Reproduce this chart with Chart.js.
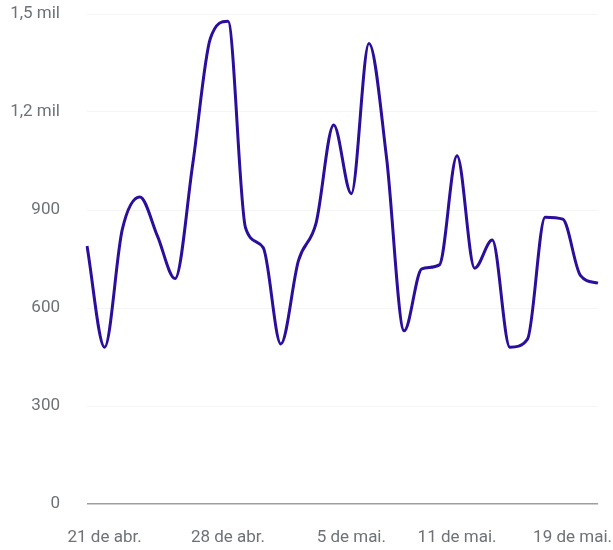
<!DOCTYPE html>
<html lang="pt">
<head>
    <meta charset="UTF-8">
    <title>Visitas diárias</title>
    <script src="https://cdn.jsdelivr.net/npm/chart.js"></script>
    <style>
        html, body { margin: 0; padding: 0; background: #fff; }
        #wrap { width: 613px; height: 550px; }
    </style>
</head>
<body>
    <div id="wrap"><canvas id="myChart"></canvas></div>

    <script>
        // one point per day, 20 de abr. .. 19 de mai.
        const days = [
            '20 de abr.', '21 de abr.', '22 de abr.', '23 de abr.', '24 de abr.',
            '25 de abr.', '26 de abr.', '27 de abr.', '28 de abr.', '29 de abr.',
            '30 de abr.', '1 de mai.', '2 de mai.', '3 de mai.', '4 de mai.',
            '5 de mai.', '6 de mai.', '7 de mai.', '8 de mai.', '9 de mai.',
            '10 de mai.', '11 de mai.', '12 de mai.', '13 de mai.', '14 de mai.',
            '15 de mai.', '16 de mai.', '17 de mai.', '18 de mai.', '19 de mai.'
        ];
        const values = [
            790, 480, 840, 940, 820,
            690, 1040, 1425, 1478, 845,
            785, 490, 745, 860, 1160,
            950, 1410, 1060, 530, 720,
            732, 1066, 722, 808, 480,
            505, 878, 872, 700, 676
        ];
        // which days get a label under the axis
        const xTickIndex = [1, 8, 15, 21, 29];
        const yTickLabels = ['0', '300', '600', '900', '1,2 mil', '1,5 mil'];

        const textColor = '#6e7276';
        const font = { family: 'Roboto', size: 17 };

        // draws the date labels, keeping the last one inside the canvas
        const dateLabels = {
            id: 'dateLabels',
            afterDraw(chart) {
                const ctx = chart.ctx;
                const x = chart.scales.x;
                const y = chart.chartArea.bottom + 34;
                ctx.save();
                ctx.font = font.size + 'px ' + font.family;
                ctx.fillStyle = textColor;
                ctx.textBaseline = 'middle';
                ctx.textAlign = 'left';
                xTickIndex.forEach(i => {
                    const text = days[i];
                    const w = ctx.measureText(text).width;
                    let left = x.getPixelForValue(i) - w / 2;
                    left = Math.min(left, chart.width - w - 1);
                    ctx.fillText(text, left, y);
                });
                ctx.restore();
            }
        };

        const ctx = document.getElementById('myChart').getContext('2d');
        new Chart(ctx, {
            type: 'line',
            data: {
                labels: days,
                datasets: [{
                    data: values,
                    borderColor: '#2b0e9c',
                    borderWidth: 3,
                    pointRadius: 0,
                    cubicInterpolationMode: 'monotone',
                    fill: false
                }]
            },
            options: {
                responsive: true,
                maintainAspectRatio: false,
                animation: false,
                layout: { padding: { top: 14, right: 15, bottom: 46, left: 0 } },
                plugins: {
                    legend: { display: false },
                    tooltip: { enabled: false }
                },
                scales: {
                    x: {
                        offset: false,
                        grid: { display: false },
                        border: { display: false },
                        ticks: { display: false },
                        afterFit(scale) { scale.height = 0; }
                    },
                    y: {
                        min: 0,
                        max: 1500,
                        afterFit(scale) {
                            scale.width = 87;
                            scale.paddingTop = 0;
                            scale.paddingBottom = 0;
                        },
                        border: { display: false },
                        grid: {
                            drawTicks: false,
                            color: c => c.tick.value === 0 ? '#9e9e9e' : '#f5f5f5',
                            lineWidth: c => c.tick.value === 0 ? 1.5 : 1
                        },
                        ticks: {
                            stepSize: 300,
                            padding: 27,
                            color: textColor,
                            font: font,
                            callback: (v, i) => yTickLabels[i]
                        }
                    }
                }
            },
            plugins: [dateLabels]
        });
    </script>
</body>
</html>
